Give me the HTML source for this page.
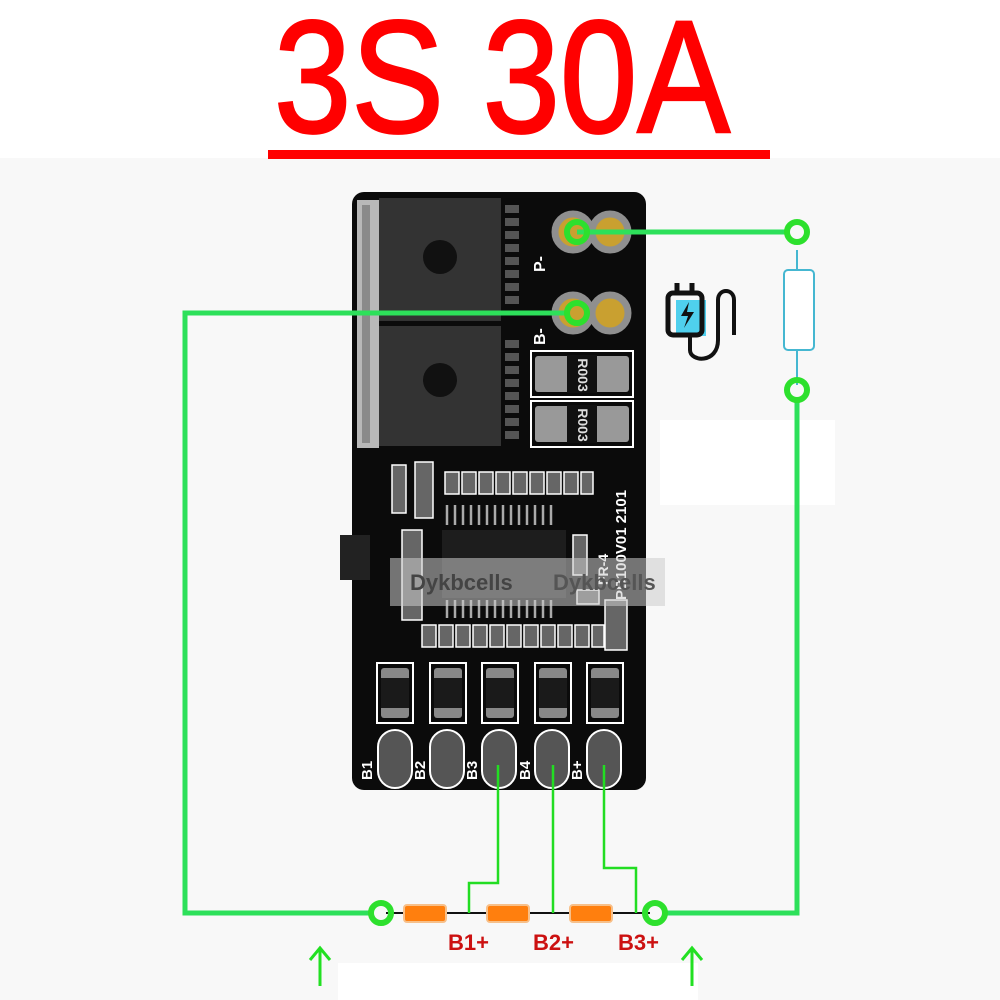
<!DOCTYPE html>
<html><head><meta charset="utf-8"><style>html,body{margin:0;padding:0;background:#fff}svg{display:block}</style></head>
<body>
<svg width="1000" height="1000" viewBox="0 0 1000 1000" xmlns="http://www.w3.org/2000/svg" font-family="Liberation Sans, sans-serif">
<rect width="1000" height="1000" fill="#fff"/>
<rect x="0" y="158" width="1000" height="842" fill="#f8f8f8"/>
<rect x="660" y="420" width="175" height="85" fill="#fff"/>
<rect x="338" y="963" width="360" height="37" fill="#fff"/>
<text x="274" y="132" font-size="160" fill="#f00" stroke="#f00" stroke-width="2.5" textLength="456" lengthAdjust="spacingAndGlyphs">3S 30A</text>
<rect x="268" y="150" width="502" height="9" fill="#f00"/>

<!-- board -->
<rect x="352" y="192" width="294" height="598" rx="12" fill="#0b0b0b"/>
<rect x="357" y="200" width="22" height="248" fill="#b8b8b8"/>
<rect x="362" y="205" width="8" height="238" fill="#8a8a8a"/>
<rect x="379" y="198" width="122" height="123" fill="#333"/>
<rect x="379" y="326" width="122" height="120" fill="#333"/>
<circle cx="440" cy="257" r="17" fill="#111"/>
<circle cx="440" cy="380" r="17" fill="#111"/>
<g fill="#555">
<rect x="505" y="205" width="14" height="8"/><rect x="505" y="218" width="14" height="8"/><rect x="505" y="231" width="14" height="8"/><rect x="505" y="244" width="14" height="8"/><rect x="505" y="257" width="14" height="8"/><rect x="505" y="270" width="14" height="8"/><rect x="505" y="283" width="14" height="8"/><rect x="505" y="296" width="14" height="8"/><rect x="505" y="340" width="14" height="8"/><rect x="505" y="353" width="14" height="8"/><rect x="505" y="366" width="14" height="8"/><rect x="505" y="379" width="14" height="8"/><rect x="505" y="392" width="14" height="8"/><rect x="505" y="405" width="14" height="8"/><rect x="505" y="418" width="14" height="8"/><rect x="505" y="431" width="14" height="8"/>
</g>
<!-- big pads -->
<g stroke="#8f8f8f" stroke-width="7" fill="#c9a030">
<circle cx="573" cy="232" r="18"/><circle cx="610" cy="232" r="18"/>
<circle cx="573" cy="313" r="18"/><circle cx="610" cy="313" r="18"/>
</g>
<text x="545" y="272" font-size="16" fill="#fff" font-weight="bold" transform="rotate(-90 545 272)">P-</text>
<text x="545" y="345" font-size="16" fill="#fff" font-weight="bold" transform="rotate(-90 545 345)">B-</text>
<!-- shunts -->
<g>
<rect x="531" y="351" width="102" height="46" fill="none" stroke="#fff" stroke-width="2"/>
<rect x="535" y="356" width="94" height="36" rx="3" fill="#999"/>
<rect x="567" y="355" width="30" height="38" fill="#111"/>
<rect x="531" y="401" width="102" height="46" fill="none" stroke="#fff" stroke-width="2"/>
<rect x="535" y="406" width="94" height="36" rx="3" fill="#999"/>
<rect x="567" y="405" width="30" height="38" fill="#111"/>
<text x="578" y="375" font-size="14" font-weight="bold" fill="#ddd" text-anchor="middle" transform="rotate(90 578 375)">R003</text>
<text x="578" y="425" font-size="14" font-weight="bold" fill="#ddd" text-anchor="middle" transform="rotate(90 578 425)">R003</text>
</g>
<!-- small parts -->
<g fill="#666" stroke="#fff" stroke-width="1.5">
<rect x="445" y="472" width="14" height="22"/><rect x="462" y="472" width="14" height="22"/><rect x="479" y="472" width="14" height="22"/><rect x="496" y="472" width="14" height="22"/><rect x="513" y="472" width="14" height="22"/><rect x="530" y="472" width="14" height="22"/><rect x="547" y="472" width="14" height="22"/><rect x="564" y="472" width="14" height="22"/><rect x="581" y="472" width="12" height="22"/>
<rect x="392" y="465" width="14" height="48"/><rect x="415" y="462" width="18" height="56"/>
<rect x="402" y="530" width="20" height="90"/>
<rect x="422" y="625" width="14" height="22"/><rect x="439" y="625" width="14" height="22"/><rect x="456" y="625" width="14" height="22"/><rect x="473" y="625" width="14" height="22"/><rect x="490" y="625" width="14" height="22"/><rect x="507" y="625" width="14" height="22"/><rect x="524" y="625" width="14" height="22"/><rect x="541" y="625" width="14" height="22"/><rect x="558" y="625" width="14" height="22"/><rect x="575" y="625" width="14" height="22"/><rect x="592" y="625" width="12" height="22"/>
<rect x="573" y="535" width="14" height="40"/><rect x="577" y="590" width="22" height="14"/><rect x="605" y="600" width="22" height="50"/>
</g>
<rect x="442" y="530" width="124" height="68" fill="#1d1d1d"/>
<g stroke="#aaa" stroke-width="2.5">
<path d="M447 505v20M455 505v20M463 505v20M471 505v20M479 505v20M487 505v20M495 505v20M503 505v20M511 505v20M519 505v20M527 505v20M535 505v20M543 505v20M551 505v20"/>
<path d="M447 600v18M455 600v18M463 600v18M471 600v18M479 600v18M487 600v18M495 600v18M503 600v18M511 600v18M519 600v18M527 600v18M535 600v18M543 600v18M551 600v18"/>
</g>
<rect x="340" y="535" width="30" height="45" fill="#222"/>
<text x="626" y="600" font-size="15" fill="#fff" font-weight="bold" transform="rotate(-90 626 600)">PB100V01 2101</text>
<text x="608" y="585" font-size="14" fill="#fff" font-weight="bold" transform="rotate(-90 608 585)">FR-4</text>
<rect x="390" y="558" width="275" height="48" fill="#ccc" opacity="0.55"/>
<text x="410" y="590" font-size="22" font-weight="bold" fill="#444">Dykbcells</text>
<text x="553" y="590" font-size="22" font-weight="bold" fill="#555">Dykbcells</text>
<!-- bottom resistors -->
<g>
<g transform="translate(377,0)"><rect x="0" y="663" width="36" height="60" fill="none" stroke="#fff" stroke-width="2"/><rect x="4" y="668" width="28" height="50" rx="3" fill="#888"/><rect x="4" y="678" width="28" height="30" fill="#1a1a1a"/></g>
<g transform="translate(430,0)"><rect x="0" y="663" width="36" height="60" fill="none" stroke="#fff" stroke-width="2"/><rect x="4" y="668" width="28" height="50" rx="3" fill="#888"/><rect x="4" y="678" width="28" height="30" fill="#1a1a1a"/></g>
<g transform="translate(482,0)"><rect x="0" y="663" width="36" height="60" fill="none" stroke="#fff" stroke-width="2"/><rect x="4" y="668" width="28" height="50" rx="3" fill="#888"/><rect x="4" y="678" width="28" height="30" fill="#1a1a1a"/></g>
<g transform="translate(535,0)"><rect x="0" y="663" width="36" height="60" fill="none" stroke="#fff" stroke-width="2"/><rect x="4" y="668" width="28" height="50" rx="3" fill="#888"/><rect x="4" y="678" width="28" height="30" fill="#1a1a1a"/></g>
<g transform="translate(587,0)"><rect x="0" y="663" width="36" height="60" fill="none" stroke="#fff" stroke-width="2"/><rect x="4" y="668" width="28" height="50" rx="3" fill="#888"/><rect x="4" y="678" width="28" height="30" fill="#1a1a1a"/></g>
</g>
<g fill="#555" stroke="#fff" stroke-width="2">
<rect x="378" y="730" width="34" height="58" rx="17"/><rect x="430" y="730" width="34" height="58" rx="17"/><rect x="482" y="730" width="34" height="58" rx="17"/><rect x="535" y="730" width="34" height="58" rx="17"/><rect x="587" y="730" width="34" height="58" rx="17"/>
</g>
<g font-size="15" fill="#fff" font-weight="bold">
<text x="372" y="780" transform="rotate(-90 372 780)">B1</text>
<text x="425" y="780" transform="rotate(-90 425 780)">B2</text>
<text x="477" y="780" transform="rotate(-90 477 780)">B3</text>
<text x="530" y="780" transform="rotate(-90 530 780)">B4</text>
<text x="582" y="780" transform="rotate(-90 582 780)">B+</text>
</g>

<!-- charger icon -->
<rect x="676" y="300" width="30" height="36" fill="#4fd0ee"/>
<rect x="668" y="293" width="34" height="42" rx="5" fill="none" stroke="#111" stroke-width="5"/>
<path d="M677 293v-10M692 293v-10" stroke="#111" stroke-width="5"/>
<path d="M689 302l-8 14h7l-4 12 10-16h-7z" fill="#111"/>
<path d="M690 336v14c0 12 28 14 28 -10v-40c0-12 16-12 16 0v35" fill="none" stroke="#111" stroke-width="4"/>

<!-- schematic -->
<rect x="784" y="270" width="30" height="80" rx="4" fill="#fff" stroke="#45b7d1" stroke-width="2"/>
<path d="M797 250v20M797 350v35" stroke="#45b7d1" stroke-width="2"/>
<g fill="none" stroke="#2de05a" stroke-width="5">
<path d="M577 232H787"/>
<path d="M797 400V913H665"/>
<path d="M567 313H185V913H371"/>
</g>
<path d="M386 913H650" stroke="#111" stroke-width="2"/>
<g fill="none" stroke="#22dd22" stroke-width="2.5">
<path d="M498 765V883H469V913"/>
<path d="M553 765V913"/>
<path d="M604 765V868H636V913"/>
</g>
<g fill="#ff7f0e" stroke="#f7c08a" stroke-width="2">
<rect x="404" y="905" width="42" height="17" rx="3"/>
<rect x="487" y="905" width="42" height="17" rx="3"/>
<rect x="570" y="905" width="42" height="17" rx="3"/>
</g>
<g fill="none" stroke="#2de02d" stroke-width="6">
<circle cx="577" cy="232" r="10"/><circle cx="577" cy="313" r="10"/>
<circle cx="797" cy="232" r="10"/><circle cx="797" cy="390" r="10"/>
<circle cx="381" cy="913" r="10"/><circle cx="655" cy="913" r="10"/>
</g>
<g font-size="22" font-weight="bold" fill="#cc1111">
<text x="448" y="950">B1+</text><text x="533" y="950">B2+</text><text x="618" y="950">B3+</text>
</g>
<g stroke="#22e022" stroke-width="3" fill="none">
<path d="M320 986V948M310 960l10-12 10 12"/>
<path d="M692 986V948M682 960l10-12 10 12"/>
</g>
</svg>
</body></html>
